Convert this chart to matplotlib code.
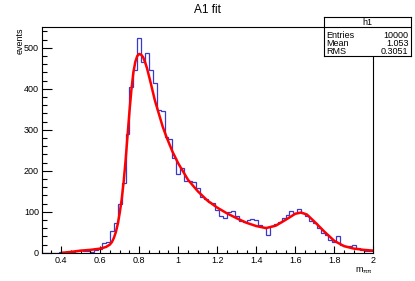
import numpy as np
import matplotlib
matplotlib.use("Agg")
import matplotlib.pyplot as plt
from matplotlib.ticker import MultipleLocator, FixedLocator, FixedFormatter

plt.rcParams['font.family'] = ['Liberation Sans', 'DejaVu Sans']

# histogram h1: bin centres 0.30 .. 2.00, width 0.02
bin_first_center = 0.30
bin_width = 0.02
counts = [
    0, 0, 0, 0, 0, 1, 0, 1, 2, 5,
    6, 5, 5, 2, 6, 10, 23, 27, 53, 72,
    120, 169, 290, 405, 446, 525, 466, 488, 446, 415,
    348, 345, 283, 277, 232, 192, 206, 174, 174, 172,
    157, 137, 130, 124, 122, 104, 90, 85, 100, 101,
    89, 77, 76, 80, 82, 79, 68, 63, 43, 65,
    70, 75, 84, 92, 102, 96, 106, 98, 90, 78,
    72, 60, 47, 44, 30, 27, 40, 20, 16, 17,
    18, 12, 7, 5, 4, 3,
]

# fit curve
fit_x = [0.41, 0.45, 0.50, 0.55, 0.60, 0.63, 0.65, 0.66, 0.67, 0.68, 0.69,
         0.70, 0.71, 0.72, 0.73, 0.74, 0.75, 0.76, 0.77, 0.78, 0.79, 0.80,
         0.81, 0.82, 0.83, 0.84, 0.86, 0.88, 0.90, 0.92, 0.94, 0.97, 1.00,
         1.05, 1.10, 1.15, 1.20, 1.25, 1.30, 1.35, 1.40, 1.45, 1.50, 1.55,
         1.60, 1.63, 1.66, 1.70, 1.75, 1.80, 1.85, 1.90, 1.95, 2.00]
fit_y = [0, 2, 5, 7, 10, 14, 20, 26, 36, 50, 70,
         97, 130, 172, 225, 285, 345, 398, 440, 466, 480, 485,
         483, 477, 465, 450, 412, 372, 340, 308, 282, 247, 218,
         178, 150, 127, 110, 96, 84, 73, 65, 60, 66, 80,
         95, 98, 93, 75, 51, 29, 16, 10, 7, 5]

x_ticks = [0.4, 0.6, 0.8, 1.0, 1.2, 1.4, 1.6, 1.8, 2.0]
x_tick_labels = ['0.4', '0.6', '0.8', '1', '1.2', '1.4', '1.6', '1.8', '2']

stats = [('Entries', '10000'), ('Mean', '1.053'), ('RMS', '0.3051')]

W, H = 415, 281
fig = plt.figure(figsize=(W / 100, H / 100), dpi=100)
fig.patch.set_facecolor('white')

ax = fig.add_axes([41.7 / W, 1 - 252.7 / H, (373.3 - 41.7) / W, (252.7 - 27.3) / H])

edges = bin_first_center - bin_width / 2 + bin_width * np.arange(len(counts) + 1)
ax.stairs(counts, edges, color='#3a3ac8', lw=0.9)
ax.plot(fit_x, fit_y, color='red', lw=1.8, solid_joinstyle='round')

ax.set_xlim(0.3, 2.0)
ax.set_ylim(0, 550)

ax.xaxis.set_major_locator(FixedLocator(x_ticks))
ax.xaxis.set_major_formatter(FixedFormatter(x_tick_labels))
ax.xaxis.set_minor_locator(MultipleLocator(0.05))
ax.yaxis.set_major_locator(MultipleLocator(100))
ax.yaxis.set_minor_locator(MultipleLocator(20))

ax.tick_params(which='both', direction='in', top=False, right=False,
               width=0.8, labelsize=6.5)
ax.tick_params(axis='x', which='major', length=4.9, pad=2.5)
ax.tick_params(axis='x', which='minor', length=2.4)
ax.tick_params(axis='y', which='major', length=7.2, pad=2)
ax.tick_params(axis='y', which='minor', length=3.6)
for s in ax.spines.values():
    s.set_linewidth(0.8)

fig.text(0.5, 1 - 10 / H, 'A1 fit', ha='center', va='center', fontsize=8.5)
fig.text(20 / W, 1 - 27.5 / H, 'events', rotation=90, ha='center', va='top', fontsize=6.5)
fig.text(373 / W, 1 - 265.5 / H, r'm$_{\mathregular{\pi\pi}}$', ha='right', va='top', fontsize=6.5)

# stats box
box = fig.add_axes([324 / W, 1 - 56 / H, (411 - 324) / W, (56 - 17) / H])
box.set_xticks([])
box.set_yticks([])
box.set_xlim(0, 1)
box.set_ylim(0, 39)
for s in box.spines.values():
    s.set_linewidth(0.8)
box.axhline(39 - 10.3, color='black', lw=0.8)
box.text(0.5, 39 - 5.2, 'h1', ha='center', va='center', fontsize=6.5)
for i, (name, val) in enumerate(stats):
    yy = 39 - 18 - 8 * i
    box.text(0.03, yy, name, ha='left', va='center', fontsize=6.5)
    box.text(0.97, yy, val, ha='right', va='center', fontsize=6.5)

fig.savefig('out.png', dpi=100, facecolor='white')
